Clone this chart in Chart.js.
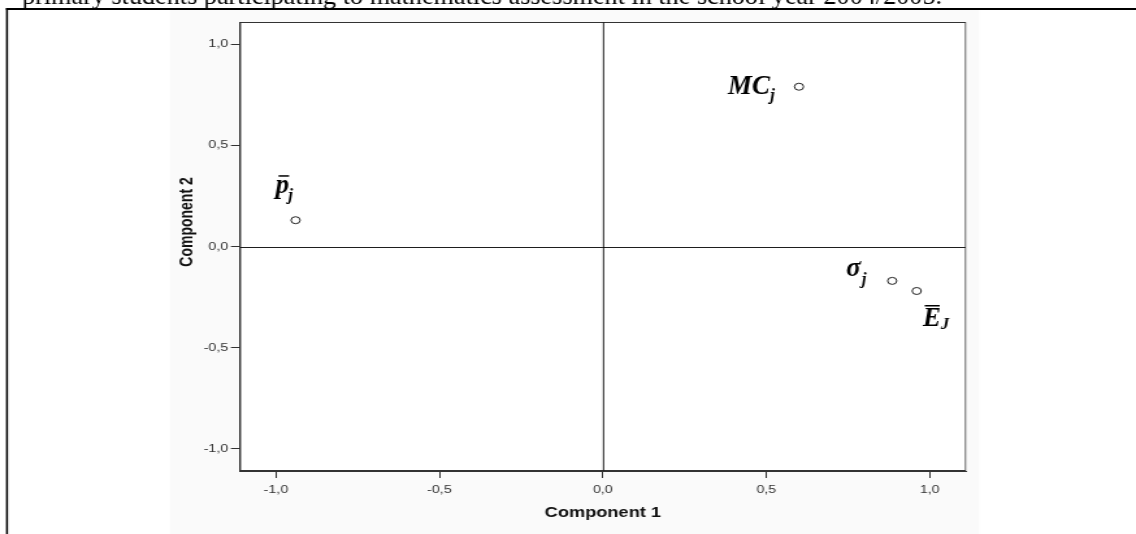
<!DOCTYPE html>
<html>
<head>
<meta charset="utf-8">
<script src="https://cdn.jsdelivr.net/npm/chart.js@4.4.1/dist/chart.umd.min.js"></script>
<style>
  html, body { margin: 0; padding: 0; background: #fff; overflow: hidden; }
  /* the plot is laid out on a narrower canvas and widened horizontally */
  #wrap { position: absolute; left: 0; top: 0; width: 874px; height: 534px;
          transform: scaleX(1.29977); transform-origin: 0 0; }
</style>
</head>
<body>
<div id="wrap"><canvas id="c"></canvas></div>
<script>
// ---- data -------------------------------------------------------------
const componentNames = ['p', 'MC', 'σ', 'E'];
const subscripts     = ['j', 'j', 'j', 'J'];
const overbars       = [true, false, false, true];
const component1     = [-0.94, 0.60, 0.885, 0.96];
const component2     = [0.13, 0.79, -0.17, -0.22];
const axisMin = -1.11, axisMax = 1.11, tickStep = 0.5;
const xTitle = 'Component 1';
const yTitle = 'Component 2';
const captionText = 'primary students participating to mathematics assessment in the school year 2004/2005.';

// ---- presentation -------------------------------------------------------
const S = 1136 / 874;               // horizontal widening of #wrap
const fmt = v => v.toFixed(1).replace('.', ',');

// label placement relative to each point (screen px)
const labelLayout = [
  { dx: -20, dy: -27, subGap: -1, subDrop: 7, barFrom: 3, barTrim: 0, barRise: 18 },
  { dx: -71, dy: 7,   subGap: 0,  subDrop: 6 },
  { dx: -46, dy: -5,  subGap: 1,  subDrop: 8 },
  { dx: 6,   dy: 35,  subGap: 0,  subDrop: 3, barFrom: 2, barTrim: 1, barRise: 21 }
];

const tickFont = { family: '"Liberation Sans", Arial, sans-serif', size: 11 };
const titleFont = { family: '"Liberation Sans", Arial, sans-serif', size: 14, weight: 'bold' };

const decor = {
  id: 'decor',
  beforeDraw(chart) {
    const ctx = chart.ctx, a = chart.chartArea;
    ctx.save();
    ctx.scale(1 / S, 1);
    ctx.fillStyle = '#fafafa';
    ctx.fillRect(170, 10, 809, 524);
    ctx.fillStyle = '#ffffff';
    ctx.fillRect(a.left * S, a.top, (a.right - a.left) * S, a.bottom - a.top);
    // page frame
    ctx.fillStyle = '#000';
    ctx.fillRect(6, 8, 1130, 2);
    ctx.fillRect(6, 8, 2, 526);
    // caption line
    ctx.font = '26.2px "Liberation Serif"';
    ctx.textBaseline = 'alphabetic';
    ctx.textAlign = 'left';
    ctx.fillText(captionText, 22, 4);
    ctx.restore();
  },
  beforeDatasetsDraw(chart) {
    const ctx = chart.ctx, a = chart.chartArea;
    const xs = chart.scales.x, ys = chart.scales.y;
    ctx.save();
    ctx.scale(1 / S, 1);
    const L = Math.round(a.left * S) + 0.5, R = Math.round(a.right * S) - 0.5;
    const T = Math.round(a.top) + 0.5, B = Math.round(a.bottom) - 0.5;
    ctx.strokeStyle = '#333';
    ctx.lineWidth = 1;
    ctx.strokeRect(L, T, R - L, B - T);
    ctx.strokeStyle = '#000';
    const x0 = Math.round(xs.getPixelForValue(0) * S) + 0.5;
    const y0 = Math.round(ys.getPixelForValue(0)) + 0.5;
    ctx.beginPath();
    ctx.moveTo(x0, T); ctx.lineTo(x0, B);
    ctx.moveTo(L, y0); ctx.lineTo(R, y0);
    ctx.stroke();
    ctx.restore();

    // vertical axis title, in the widened plot coordinates
    ctx.save();
    ctx.translate(143.9, 222);
    ctx.rotate(-Math.PI / 2);
    ctx.font = `bold ${titleFont.size}px ${titleFont.family}`;
    ctx.fillStyle = '#111';
    ctx.textAlign = 'center';
    ctx.textBaseline = 'middle';
    ctx.fillText(yTitle, 0, 0);
    ctx.restore();
  },
  afterDatasetsDraw(chart) {
    const ctx = chart.ctx;
    const xs = chart.scales.x, ys = chart.scales.y;
    ctx.save();
    ctx.scale(1 / S, 1);
    ctx.fillStyle = '#000';
    ctx.textBaseline = 'alphabetic';
    ctx.textAlign = 'left';
    componentNames.forEach((name, i) => {
      const L = labelLayout[i];
      const px = xs.getPixelForValue(component1[i]) * S;
      const py = ys.getPixelForValue(component2[i]);
      const x = px + L.dx, y = py + L.dy;
      ctx.font = 'italic bold 27px "Liberation Serif"';
      ctx.fillText(name, x, y);
      const w = ctx.measureText(name).width;
      if (overbars[i]) {
        ctx.fillRect(x + L.barFrom, y - L.barRise, w - L.barFrom - L.barTrim, 1.5);
      }
      ctx.font = 'italic bold 17px "Liberation Serif"';
      ctx.fillText(subscripts[i], x + w + L.subGap, y + L.subDrop);
    });
    ctx.restore();
  }
};

new Chart(document.getElementById('c'), {
  type: 'scatter',
  data: {
    datasets: [{
      data: component1.map((x, i) => ({ x, y: component2[i] })),
      pointRadius: 3.5,
      pointHoverRadius: 3.5,
      pointBorderWidth: 1,
      pointBorderColor: '#222',
      pointBackgroundColor: '#fff'
    }]
  },
  options: {
    responsive: true,
    maintainAspectRatio: false,
    animation: false,
    events: [],
    layout: { padding: { left: 0, top: 22, right: 131, bottom: 0 } },
    plugins: { legend: { display: false }, tooltip: { enabled: false } },
    scales: {
      x: {
        type: 'linear',
        min: axisMin, max: axisMax,
        ticks: { stepSize: tickStep, includeBounds: false, callback: fmt, font: tickFont,
                 color: '#333', padding: 5, maxRotation: 0, autoSkip: false },
        grid: { drawOnChartArea: false, tickLength: 7, tickColor: '#333', lineWidth: 1 },
        border: { color: '#333', width: 1 },
        title: { display: true, text: xTitle, font: titleFont, color: '#111',
                 padding: { top: 0, bottom: 12 } },
        afterFit(s) { s.height = 63; }
      },
      y: {
        type: 'linear',
        min: axisMin, max: axisMax,
        ticks: { stepSize: tickStep, includeBounds: false, callback: fmt, font: tickFont,
                 color: '#333', padding: 2, autoSkip: false },
        grid: { drawOnChartArea: false, tickLength: 7, tickColor: '#333', lineWidth: 1 },
        border: { color: '#333', width: 1 },
        title: { display: false },
        afterFit(s) { s.width = 184.65; }
      }
    }
  },
  plugins: [decor]
});
</script>
</body>
</html>
